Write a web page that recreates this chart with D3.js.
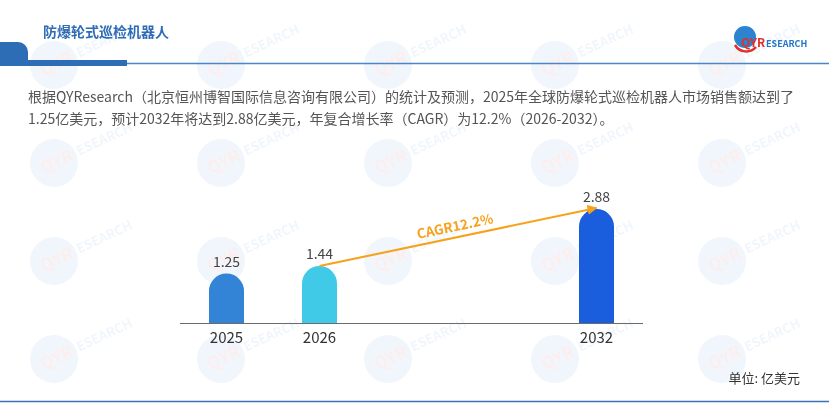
<!DOCTYPE html>
<html>
<head>
    <meta charset="utf-8">
    <script src="https://d3js.org/d3.v7.min.js"></script>
    <style>
        body { margin: 0; background: #fff; }
        svg { display: block; font-family: "Noto Sans CJK SC", "Noto Sans", sans-serif; }
    </style>
</head>
<body>
    <svg id="chart"></svg>

    <script>
        // Chart data
        const years = ["2025", "2026", "2032"];
        const sales = [1.25, 1.44, 2.88];
        const barColors = ["#3383d6", "#41cae8", "#1a5ede"];
        const cagrLabel = "CAGR12.2%";
        const titleText = "防爆轮式巡检机器人";
        const introLines = [
            "根据QYResearch（北京恒州博智国际信息咨询有限公司）的统计及预测，2025年全球防爆轮式巡检机器人市场销售额达到了",
            "1.25亿美元，预计2032年将达到2.88亿美元，年复合增长率（CAGR）为12.2%（2026-2032）。"
        ];
        const unitText = "单位: 亿美元";

        const width = 829;
        const height = 412;

        const svg = d3.select("#chart")
            .attr("width", width)
            .attr("height", height);

        // Faint watermark grid
        const wm = svg.append("g").attr("opacity", 0.08);
        for (let r = 0; r < 4; r++) {
            for (let c = 0; c < 5; c++) {
                const g = wm.append("g")
                    .attr("transform", `translate(${54 + c * 167},${65 + r * 98}) rotate(-25)`);
                g.append("circle").attr("r", 24).attr("fill", "#4a90d9");
                g.append("text")
                    .attr("x", -14).attr("y", 6)
                    .attr("font-size", 17).attr("font-weight", "bold")
                    .attr("fill", "#e0302a")
                    .text("QYR");
                g.append("text")
                    .attr("x", 26).attr("y", 4)
                    .attr("font-size", 13).attr("font-weight", "bold")
                    .attr("fill", "#4a90d9")
                    .text("ESEARCH");
            }
        }

        // Header
        svg.append("path")
            .attr("d", "M0,42 H18 A10,10 0 0 1 28,52 V60 H127 V66 H0 Z")
            .attr("fill", "#2d6db5");
        svg.append("line")
            .attr("x1", 127).attr("x2", width)
            .attr("y1", 63.5).attr("y2", 63.5)
            .attr("stroke", "#4a86c8").attr("stroke-width", 1.5);
        svg.append("text")
            .attr("x", 43).attr("y", 37)
            .attr("font-size", 14).attr("font-weight", "bold")
            .attr("fill", "#2e6cb5")
            .text(titleText);

        // Logo
        const logo = svg.append("g");
        logo.append("circle").attr("cx", 745).attr("cy", 37).attr("r", 11).attr("fill", "#2c83d0");
        logo.append("path")
            .attr("d", "M735,45 A13,13 0 0 0 756,47")
            .attr("fill", "none").attr("stroke", "#e0302a").attr("stroke-width", 2.5);
        logo.append("text")
            .attr("x", 741).attr("y", 47)
            .attr("font-size", 12).attr("font-weight", "bold")
            .attr("fill", "#e0302a").text("QYR");
        logo.append("text")
            .attr("x", 766).attr("y", 47)
            .attr("font-size", 9).attr("font-weight", "bold")
            .attr("fill", "#2275c9").text("ESEARCH");

        // Intro text
        svg.selectAll(".intro")
            .data(introLines)
            .enter()
            .append("text")
            .attr("class", "intro")
            .attr("x", 28)
            .attr("y", (d, i) => 102 + i * 22)
            .attr("font-size", 14)
            .attr("fill", "#555")
            .text(d => d);

        // Scales: bars sit on a year-based linear scale
        const xYear = d3.scaleLinear()
            .domain([2025, 2032])
            .range([226.5, 596.5]);
        const y = d3.scaleLinear()
            .domain([0, 2.88])
            .range([323, 209]);

        const barW = 35;
        const cx = d => {
            const yr = +d;
            // 2026 bar is placed a bit further right than pure linear spacing
            return yr === 2026 ? 319.5 : xYear(yr);
        };

        // Axis baseline
        svg.append("line")
            .attr("x1", 180).attr("x2", 643)
            .attr("y1", y(0) + 0.5).attr("y2", y(0) + 0.5)
            .attr("stroke", "#6b6b6b").attr("stroke-width", 1.2);

        // Bars with rounded tops
        const r = barW / 2;
        svg.selectAll(".bar")
            .data(years)
            .enter()
            .append("path")
            .attr("class", "bar")
            .attr("fill", (d, i) => barColors[i])
            .attr("d", (d, i) => {
                const left = cx(d) - r;
                const top = y(sales[i]);
                const base = y(0);
                return `M${left},${base} V${top + r} A${r},${r} 0 0 1 ${left + barW},${top + r} V${base} Z`;
            });

        // Value labels
        svg.selectAll(".val")
            .data(years)
            .enter()
            .append("text")
            .attr("class", "val")
            .attr("x", d => cx(d))
            .attr("y", (d, i) => y(sales[i]) - 7)
            .attr("text-anchor", "middle")
            .attr("font-size", 14)
            .attr("fill", "#444")
            .text((d, i) => sales[i].toFixed(2));

        // Year labels
        svg.selectAll(".yr")
            .data(years)
            .enter()
            .append("text")
            .attr("class", "yr")
            .attr("x", d => cx(d))
            .attr("y", y(0) + 20)
            .attr("text-anchor", "middle")
            .attr("font-size", 15)
            .attr("fill", "#333")
            .text(d => d);

        // CAGR arrow from 2026 to 2032
        const x1 = cx("2026"), y1 = y(sales[1]);
        const x2 = cx("2032"), y2 = y(sales[2]) - 1;
        svg.append("defs").append("marker")
            .attr("id", "arrow")
            .attr("viewBox", "0 0 10 10")
            .attr("refX", 9).attr("refY", 5)
            .attr("markerWidth", 5).attr("markerHeight", 5)
            .attr("orient", "auto")
            .append("path")
            .attr("d", "M0,0 L10,5 L0,10 Z")
            .attr("fill", "#f7a21b");
        svg.append("line")
            .attr("x1", x1).attr("y1", y1)
            .attr("x2", x2).attr("y2", y2)
            .attr("stroke", "#f7a21b").attr("stroke-width", 2)
            .attr("marker-end", "url(#arrow)");
        const ang = Math.atan2(y2 - y1, x2 - x1) * 180 / Math.PI;
        svg.append("text")
            .attr("transform", `translate(456,231) rotate(${ang})`)
            .attr("text-anchor", "middle")
            .attr("font-size", 13.5)
            .attr("font-weight", "bold")
            .attr("fill", "#f7a21b")
            .text(cagrLabel);

        // Unit label and footer line
        svg.append("text")
            .attr("x", 800).attr("y", 383)
            .attr("text-anchor", "end")
            .attr("font-size", 13)
            .attr("fill", "#333")
            .text(unitText);
        svg.append("line")
            .attr("x1", 0).attr("x2", width)
            .attr("y1", 401.5).attr("y2", 401.5)
            .attr("stroke", "#3a72b8").attr("stroke-width", 1.5);
    </script>
</body>
</html>
